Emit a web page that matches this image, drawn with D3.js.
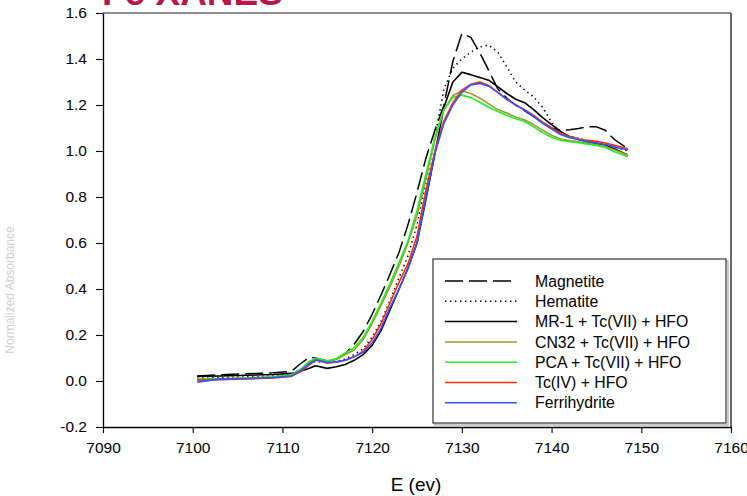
<!DOCTYPE html>
<html><head><meta charset="utf-8">
<script src="https://cdn.jsdelivr.net/npm/d3@7"></script>
<style>
html,body{margin:0;padding:0;background:#fff;}
svg{display:block;font-family:Arial,"Liberation Sans",sans-serif;}
</style></head>
<body><svg id="c" width="747" height="496"></svg>
<script>
const energy = [7100.5, 7103, 7106, 7109, 7111, 7112, 7113, 7113.7, 7115, 7116, 7117,
  7118, 7119, 7120, 7121, 7122, 7123, 7124, 7125, 7126, 7127, 7128, 7129, 7130, 7131, 7132,
  7133, 7134, 7135, 7136, 7137, 7138, 7139, 7140, 7141, 7142, 7143, 7144, 7145, 7146, 7147, 7148.5];

const magnetite = [0.022, 0.027, 0.031, 0.036, 0.042, 0.075, 0.103, 0.100, 0.087, 0.095, 0.118,
  0.16, 0.215, 0.29, 0.375, 0.465, 0.56, 0.68, 0.82, 0.97, 1.09, 1.20, 1.39, 1.511, 1.494, 1.427,
  1.35, 1.27, 1.23, 1.20, 1.175, 1.15, 1.125, 1.10, 1.09, 1.092, 1.098, 1.105, 1.105, 1.09, 1.05, 1.01];
const hematite = [0.012, 0.015, 0.018, 0.022, 0.03, 0.05, 0.075, 0.085, 0.08, 0.085, 0.095,
  0.115, 0.14, 0.19, 0.26, 0.35, 0.45, 0.545, 0.68, 0.86, 1.06, 1.27, 1.36, 1.40, 1.43, 1.453,
  1.46, 1.43, 1.367, 1.30, 1.265, 1.235, 1.19, 1.125, 1.08, 1.065, 1.055, 1.045, 1.04, 1.03, 1.018, 1.0];
const mr1 = [0.02, 0.022, 0.025, 0.028, 0.033, 0.042, 0.055, 0.066, 0.055, 0.062, 0.072,
  0.09, 0.115, 0.155, 0.22, 0.31, 0.40, 0.49, 0.60, 0.79, 0.99, 1.19, 1.30, 1.342, 1.332, 1.32,
  1.308, 1.28, 1.25, 1.225, 1.21, 1.18, 1.145, 1.115, 1.085, 1.062, 1.05, 1.04, 1.034, 1.025, 1.01, 0.983];
const cn32 = [0.007, 0.01, 0.013, 0.017, 0.025, 0.045, 0.08, 0.097, 0.086, 0.093, 0.115,
  0.135, 0.18, 0.25, 0.33, 0.41, 0.50, 0.60, 0.72, 0.88, 1.05, 1.18, 1.24, 1.262, 1.25, 1.23,
  1.205, 1.18, 1.165, 1.148, 1.135, 1.115, 1.09, 1.068, 1.052, 1.045, 1.04, 1.034, 1.027, 1.02, 1.005, 0.983];
const pca = [0.007, 0.01, 0.013, 0.018, 0.027, 0.05, 0.085, 0.099, 0.088, 0.097, 0.122,
  0.145, 0.19, 0.26, 0.34, 0.425, 0.515, 0.61, 0.74, 0.90, 1.06, 1.18, 1.232, 1.243, 1.232, 1.212,
  1.19, 1.172, 1.155, 1.14, 1.128, 1.105, 1.08, 1.06, 1.047, 1.04, 1.036, 1.03, 1.024, 1.015, 0.997, 0.975];
const tc4 = [0.003, 0.006, 0.009, 0.013, 0.02, 0.04, 0.07, 0.09, 0.078, 0.082, 0.09,
  0.105, 0.13, 0.18, 0.25, 0.34, 0.43, 0.51, 0.63, 0.83, 1.0, 1.13, 1.21, 1.265, 1.29, 1.30,
  1.285, 1.255, 1.225, 1.2, 1.18, 1.155, 1.125, 1.1, 1.078, 1.062, 1.052, 1.046, 1.042, 1.035, 1.025, 1.01];
const ferrihydrite = [-0.005, 0.008, 0.011, 0.015, 0.022, 0.045, 0.075, 0.092, 0.08, 0.083, 0.09,
  0.105, 0.125, 0.165, 0.23, 0.32, 0.40, 0.49, 0.60, 0.80, 0.99, 1.12, 1.20, 1.255, 1.287, 1.294,
  1.282, 1.255, 1.225, 1.2, 1.178, 1.15, 1.12, 1.095, 1.072, 1.058, 1.05, 1.04, 1.034, 1.028, 1.018, 1.004];

const seriesNames = ["Magnetite", "Hematite", "MR-1 + Tc(VII) + HFO", "CN32 + Tc(VII) + HFO",
  "PCA + Tc(VII) + HFO", "Tc(IV) + HFO", "Ferrihydrite"];
const seriesValues = [magnetite, hematite, mr1, cn32, pca, tc4, ferrihydrite];
const seriesColors = ["#000000", "#000000", "#000000", "#9c9a2c", "#22ee22", "#ff2a00", "#3355ff"];
const seriesDash = ["18,6", "1.4,3.6", null, null, null, null, null];

const xTicks = [7090, 7100, 7110, 7120, 7130, 7140, 7150, 7160];
const yTicks = [-0.2, 0.0, 0.2, 0.4, 0.6, 0.8, 1.0, 1.2, 1.4, 1.6];
const titleText = "Fe XANES";
const xLabel = "E (ev)";
const yLabel = "Normalized Absorbance";

const svg = d3.select("#c");
const L = 103, R = 731, T = 13, B = 427;
const x = d3.scaleLinear().domain([7090, 7160]).range([L, R]);
const y = d3.scaleLinear().domain([-0.2, 1.6]).range([B, T]);

// title (partly cut off at top)
svg.append("text").attr("x", 102).attr("y", 5)
  .attr("font-size", 37).attr("font-weight", "bold").attr("fill", "#b5174b")
  .text(titleText);

// frame top/right
svg.append("line").attr("x1", L).attr("x2", R).attr("y1", T).attr("y2", T)
  .attr("stroke", "#666").attr("stroke-width", 1.6);
svg.append("line").attr("x1", R).attr("x2", R).attr("y1", T).attr("y2", B)
  .attr("stroke", "#444").attr("stroke-width", 1.6);

// axes
const fmtY = d => d3.format(".1f")(d).replace("\u2212", "-");
const gx = svg.append("g").attr("transform", `translate(0,${B})`)
  .call(d3.axisBottom(x).tickValues(xTicks).tickFormat(d3.format("d")).tickSize(6).tickSizeOuter(0).tickPadding(4));
const gy = svg.append("g").attr("transform", `translate(${L},0)`)
  .call(d3.axisLeft(y).tickValues(yTicks).tickFormat(fmtY).tickSize(7).tickSizeOuter(0).tickPadding(9));
[gx, gy].forEach(g => {
  g.selectAll("text").attr("font-size", 15.5).attr("fill", "#000")
    .attr("font-family", "Arial, 'Liberation Sans', sans-serif");
  g.selectAll("line").attr("stroke", "#000").attr("stroke-width", 1.1);
  g.select(".domain").attr("stroke", "#000").attr("stroke-width", 1.3);
});
gx.selectAll("text").attr("dy", "1.0em");

svg.append("text").attr("x", 416).attr("y", 491).attr("text-anchor", "middle")
  .attr("font-size", 19).attr("fill", "#000").text(xLabel);
svg.append("text").attr("transform", "translate(14,290) rotate(-90)")
  .attr("text-anchor", "middle").attr("font-size", 12).attr("fill", "#d0d0d0").text(yLabel);

// lines
const line = d3.line().x((d, i) => x(energy[i])).y(d => y(d));
const plot = svg.append("g");
seriesValues.forEach((vals, k) => {
  plot.append("path").datum(vals).attr("d", line)
    .attr("fill", "none").attr("stroke", seriesColors[k])
    .attr("stroke-width", k < 2 ? 1.5 : 1.6)
    .attr("stroke-linejoin", "round")
    .attr("stroke-dasharray", seriesDash[k]);
});

// legend
const lg = svg.append("g");
const lx0 = 433, ly0 = 259, lw = 293, lh = 164;
lg.append("rect").attr("x", lx0 + 2).attr("y", ly0 + 2).attr("width", lw).attr("height", lh)
  .attr("fill", "none").attr("stroke", "#999").attr("stroke-width", 1);
lg.append("rect").attr("x", lx0).attr("y", ly0).attr("width", lw).attr("height", lh)
  .attr("fill", "#fff").attr("stroke", "#333").attr("stroke-width", 1.2);
seriesNames.forEach((name, k) => {
  const yy = 281 + k * 20.3;
  lg.append("line").attr("x1", 445).attr("x2", k === 0 ? 511 : 517).attr("y1", yy).attr("y2", yy)
    .attr("stroke", seriesColors[k]).attr("stroke-width", 1.5)
    .attr("stroke-dasharray", seriesDash[k]);
  lg.append("text").attr("x", 535).attr("y", yy).attr("dy", "0.36em")
    .attr("font-size", 15.8).attr("fill", "#000").text(name);
});
</script></body></html>
